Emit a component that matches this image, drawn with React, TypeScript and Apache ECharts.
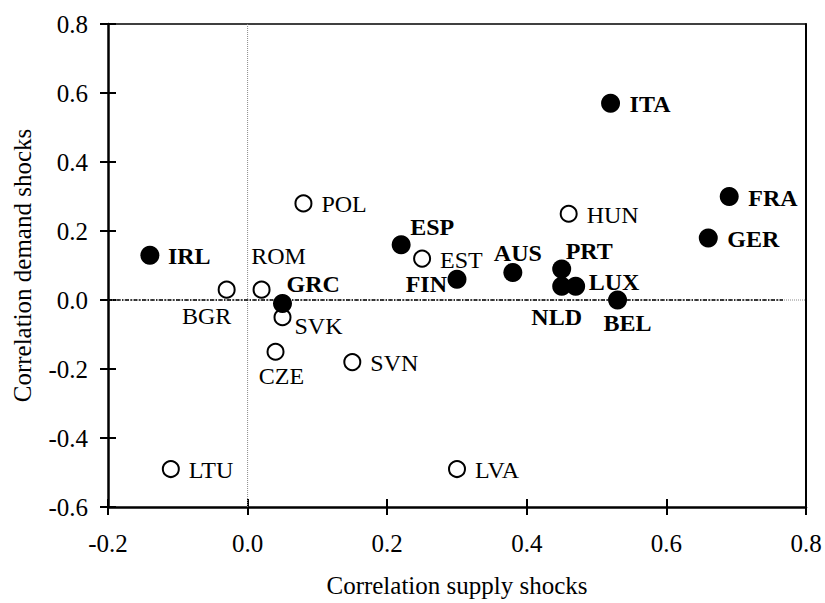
import React, { useEffect, useRef } from "react";
import * as echarts from "echarts";

// Euro-area countries (filled markers)
const euroNames = ["ITA", "FRA", "GER", "PRT", "NLD", "LUX", "BEL", "IRL", "GRC", "ESP", "FIN", "AUS"];
const euroSupply = [0.52, 0.69, 0.66, 0.45, 0.45, 0.47, 0.53, -0.14, 0.05, 0.22, 0.3, 0.38];
const euroDemand = [0.57, 0.3, 0.18, 0.09, 0.04, 0.04, 0.0, 0.13, -0.01, 0.16, 0.06, 0.08];

// Other countries (open markers)
const otherNames = ["HUN", "BGR", "ROM", "SVK", "CZE", "POL", "SVN", "EST", "LTU", "LVA"];
const otherSupply = [0.46, -0.03, 0.02, 0.05, 0.04, 0.08, 0.15, 0.25, -0.11, 0.3];
const otherDemand = [0.25, 0.03, 0.03, -0.05, -0.15, 0.28, -0.18, 0.12, -0.49, -0.49];

// Axis ranges
const xMin = -0.2;
const xMax = 0.8;
const xStep = 0.2;
const yMin = -0.6;
const yMax = 0.8;
const yStep = 0.2;

// Reference lines
const zeroDashEnd = 0.767;

// Label placement (style): [align, dx, dy] relative to marker centre
const labelPlacement: Record<string, [string, number, number]> = {
  ITA: ["left", 19, 1],
  FRA: ["left", 19, 1],
  GER: ["left", 19, 1],
  HUN: ["left", 18, 1],
  IRL: ["left", 18, 1],
  POL: ["left", 18, 1],
  EST: ["left", 18, 1],
  SVN: ["left", 18, 1],
  LTU: ["left", 18, 1],
  LVA: ["left", 18, 1],
  SVK: ["left", 12, 9],
  GRC: ["left", 4, -19],
  ROM: ["center", 17, -34],
  BGR: ["center", -20, 26],
  CZE: ["center", 6, 24],
  ESP: ["left", 9, -18],
  FIN: ["right", -10, 5],
  AUS: ["center", 5, -19],
  PRT: ["left", 4, -18],
  LUX: ["left", 13, -4],
  NLD: ["center", -5, 31],
  BEL: ["center", 10, 23],
};

const FONT = "'Liberation Serif', 'Times New Roman', serif";

function makePoints(names: string[], xs: number[], ys: number[], bold: boolean) {
  return names.map((n, i) => {
    const p = labelPlacement[n] || ["left", 18, 0];
    return {
      name: n,
      value: [xs[i], ys[i]],
      label: {
        show: true,
        position: "inside",
        formatter: n,
        align: p[0],
        verticalAlign: "middle",
        offset: [p[1], p[2]],
        color: "#000",
        fontFamily: FONT,
        fontSize: 24,
        fontWeight: bold ? "bold" : "normal",
      },
    };
  });
}

export default function App() {
  const ref = useRef<HTMLDivElement>(null);

  useEffect(() => {
    if (!ref.current) return;
    const chart = echarts.init(ref.current, undefined, { renderer: "svg" });

    const baseAxis = {
      type: "value",
      splitLine: { show: false },
    };

    const option: any = {
      animation: false,
      backgroundColor: "#fff",
      grid: { left: 108, right: 19, top: 24, bottom: 94.5, show: false },
      xAxis: [
        {
          ...baseAxis,
          min: xMin,
          max: xMax,
          interval: xStep,
          position: "bottom",
          axisLine: { show: true, onZero: false, lineStyle: { color: "#000", width: 2.5 } },
          axisTick: { show: true, inside: false, length: 8, lineStyle: { color: "#000", width: 2 } },
          axisLabel: {
            formatter: (v: number) => v.toFixed(1),
            margin: 24,
            fontSize: 25,
            color: "#000",
            fontFamily: FONT,
          },
          name: "Correlation supply shocks",
          nameLocation: "middle",
          nameGap: 66,
          nameTextStyle: { fontSize: 25, color: "#000", fontFamily: FONT },
        },
        {
          ...baseAxis,
          min: xMin,
          max: xMax,
          interval: xStep,
          position: "bottom",
          axisLine: { show: false, onZero: false },
          axisTick: { show: true, inside: true, length: 8, lineStyle: { color: "#000", width: 2 } },
          axisLabel: { show: false },
        },
        {
          ...baseAxis,
          min: xMin,
          max: xMax,
          interval: xStep,
          position: "top",
          axisLine: { show: true, onZero: false, lineStyle: { color: "#000", width: 1.5 } },
          axisTick: { show: false },
          axisLabel: { show: false },
        },
      ],
      yAxis: [
        {
          ...baseAxis,
          min: yMin,
          max: yMax,
          interval: yStep,
          position: "left",
          axisLine: { show: true, onZero: false, lineStyle: { color: "#000", width: 2.5 } },
          axisTick: { show: true, inside: false, length: 8, lineStyle: { color: "#000", width: 2 } },
          axisLabel: {
            formatter: (v: number) => v.toFixed(1),
            margin: 20,
            fontSize: 25,
            color: "#000",
            fontFamily: FONT,
          },
          name: "Correlation demand shocks",
          nameLocation: "middle",
          nameGap: 73,
          nameTextStyle: { fontSize: 25, color: "#000", fontFamily: FONT },
        },
        {
          ...baseAxis,
          min: yMin,
          max: yMax,
          interval: yStep,
          position: "left",
          axisLine: { show: false, onZero: false },
          axisTick: { show: true, inside: true, length: 8, lineStyle: { color: "#000", width: 2 } },
          axisLabel: { show: false },
        },
        {
          ...baseAxis,
          min: yMin,
          max: yMax,
          interval: yStep,
          position: "right",
          axisLine: { show: true, onZero: false, lineStyle: { color: "#000", width: 2 } },
          axisTick: { show: false },
          axisLabel: { show: false },
        },
      ],
      series: [
        {
          type: "line",
          xAxisIndex: 1,
          yAxisIndex: 1,
          data: [
            [0, yMin],
            [0, yMax],
          ],
          symbol: "none",
          silent: true,
          lineStyle: { color: "#888", width: 1, type: [1, 1] },
          z: 1,
        },
        {
          type: "line",
          xAxisIndex: 2,
          yAxisIndex: 2,
          data: [
            [xMin, 0],
            [xMax, 0],
          ],
          symbol: "none",
          silent: true,
          lineStyle: { color: "#888", width: 1, type: [1, 1] },
          z: 1,
        },
        {
          type: "line",
          xAxisIndex: 0,
          yAxisIndex: 0,
          data: [
            [xMin, 0],
            [zeroDashEnd, 0],
          ],
          symbol: "none",
          silent: true,
          lineStyle: { color: "#000", width: 1.5, type: [4, 1.5, 1.5, 1.5] },
          z: 2,
        },
        {
          type: "scatter",
          xAxisIndex: 0,
          yAxisIndex: 0,
          symbol: "circle",
          symbolSize: 16,
          itemStyle: { color: "#fff", borderColor: "#000", borderWidth: 2, opacity: 1 },
          data: makePoints(otherNames, otherSupply, otherDemand, false),
          z: 3,
        },
        {
          type: "scatter",
          xAxisIndex: 0,
          yAxisIndex: 0,
          symbol: "circle",
          symbolSize: 19,
          itemStyle: { color: "#000", opacity: 1 },
          data: makePoints(euroNames, euroSupply, euroDemand, true),
          z: 4,
        },
      ],
    };

    chart.setOption(option);
    return () => chart.dispose();
  }, []);

  return (
    <div
      ref={ref}
      style={{ position: "absolute", left: 0, top: 0, width: 825, height: 603, background: "#fff" }}
    />
  );
}
